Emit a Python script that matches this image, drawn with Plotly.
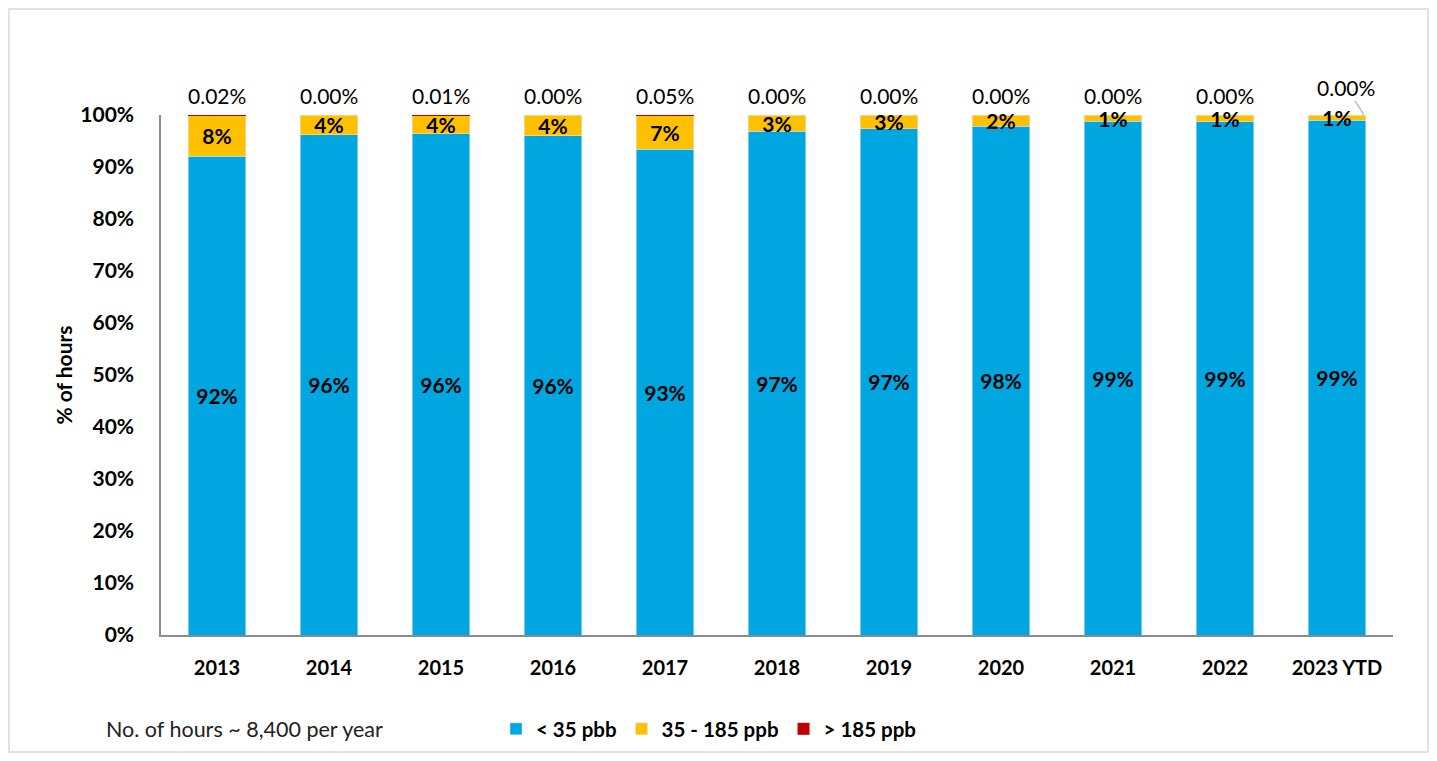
import plotly.graph_objects as go

years = ["2013", "2014", "2015", "2016", "2017", "2018", "2019", "2020", "2021", "2022", "2023 YTD"]
below_35 = [0.921, 0.962, 0.964, 0.960, 0.934, 0.969, 0.974, 0.978, 0.988, 0.987, 0.990]
mid_35_185 = [0.0788, 0.038, 0.0359, 0.040, 0.0655, 0.031, 0.026, 0.022, 0.012, 0.013, 0.010]
above_185 = [0.0002, 0.0, 0.0001, 0.0, 0.0005, 0.0, 0.0, 0.0, 0.0, 0.0, 0.0]
y_ticks = [0, 0.1, 0.2, 0.3, 0.4, 0.5, 0.6, 0.7, 0.8, 0.9, 1.0]

FONT = "Lato"
OFF = 8  # page body margin
W, H = 1437 - 2 * OFF, 761 - 2 * OFF
ML = 161 - OFF
MT = 115 - OFF
MR = OFF + W - 1393
MB = OFF + H - 635
pw = W - ML - MR
ph = H - MT - MB


def px_x(x):
    return (x - OFF - ML) / pw


def px_y(y):
    return 1 - (y - OFF - MT) / ph


fig = go.Figure()
fig.add_bar(x=years, y=below_35, name="< 35 pbb", marker_color="#00A6E0",
            texttemplate="%{y:.0%}", textposition="inside", insidetextanchor="middle",
            textfont=dict(family=FONT, size=21, color="black", weight="bold"))
fig.add_bar(x=years, y=mid_35_185, name="35 - 185 ppb", marker_color="#FFC000",
            texttemplate="%{y:.0%}", textposition="inside", insidetextanchor="middle",
            textfont=dict(family=FONT, size=21, color="black", weight="bold"))
fig.add_bar(x=years, y=above_185, name="> 185 ppb", marker_color="#C00000",
            marker_line=dict(width=0))

# Top data labels for the > 185 ppb series (x given as category index)
for i, v in enumerate(above_185):
    top = below_35[i] + mid_35_185[i] + v
    if i == len(years) - 1:
        fig.add_annotation(x=i, y=top, text=f"{v:.2%}", showarrow=True, arrowhead=0,
                           arrowcolor="#BFBFBF", arrowwidth=1.5, ax=-18, ay=-28,
                           xshift=27, font=dict(family=FONT, size=21, color="black"))
    else:
        fig.add_annotation(x=i, y=top, text=f"{v:.2%}", showarrow=False, yanchor="bottom",
                           yshift=5, font=dict(family=FONT, size=21, color="black"))

fig.add_annotation(xref="paper", yref="paper", x=px_x(104), y=px_y(729),
                   xanchor="left", yanchor="middle",
                   text="No. of hours ~ 8,400 per year", showarrow=False,
                   font=dict(family=FONT, size=21.5, color="#222222"))

# Light outer frame around the chart area (drawn just inside the figure edges)
fig.add_shape(type="rect", xref="paper", yref="paper",
              x0=px_x(OFF + 1), x1=px_x(OFF + W - 1),
              y0=px_y(OFF + H - 1), y1=px_y(OFF + 1),
              line=dict(color="#D9D9D9", width=1.5), fillcolor="rgba(0,0,0,0)", layer="below")

fig.update_layout(
    width=W, height=H, barmode="stack", bargap=0.49,
    margin=dict(l=ML, r=MR, t=MT, b=MB, autoexpand=False),
    paper_bgcolor="white", plot_bgcolor="white",
    font=dict(family=FONT, color="black"),
    uniformtext=dict(minsize=21, mode="show"),
    showlegend=True,
    legend=dict(orientation="h", xref="container", yref="container",
                x=(496 - OFF) / W, y=1 - (729 - OFF) / H,
                xanchor="left", yanchor="middle",
                font=dict(family=FONT, size=20.5, color="black", weight="bold"),
                traceorder="normal", itemwidth=30),
    xaxis=dict(type="category", range=[-0.5, len(years) - 0.5], showline=True,
               linecolor="#8C8C8C", linewidth=1.5, ticks="",
               tickfont=dict(family=FONT, size=20, color="black", weight="bold"),
               ticklabelstandoff=14),
    yaxis=dict(range=[0, 1], tickvals=y_ticks, tickformat=".0%", showgrid=False,
               zeroline=False, showline=True, linecolor="#8C8C8C", linewidth=1.5, ticks="",
               tickfont=dict(family=FONT, size=21, color="black", weight="bold"),
               ticklabelstandoff=21,
               title=dict(text="% of hours", standoff=2,
                          font=dict(family=FONT, size=21, color="black", weight="bold"))),
)
fig.update_traces(cliponaxis=False)

fig.write_html("out.html")
